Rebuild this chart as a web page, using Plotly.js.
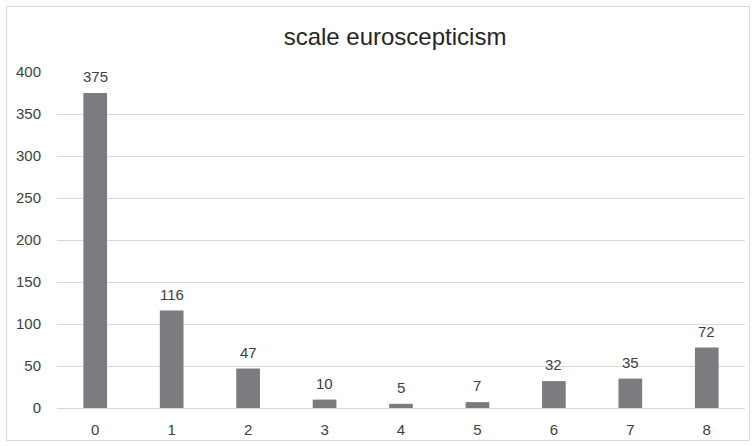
<!DOCTYPE html>
<html>
<head>
<meta charset="utf-8">
<script src="https://cdn.plot.ly/plotly-3.0.1.min.js"></script>
<style>html,body{margin:0;padding:0;background:#fff;}</style>
</head>
<body>
<div id="chart" style="width:756px;height:446px;"></div>
<script>
const categories = ["0", "1", "2", "3", "4", "5", "6", "7", "8"];
const counts = [375, 116, 47, 10, 5, 7, 32, 35, 72];
const yTicks = [0, 50, 100, 150, 200, 250, 300, 350, 400];

const W = 756, H = 446;
const m = {l: 57, r: 11, t: 72, b: 38};
const pw = W - m.l - m.r, ph = H - m.t - m.b;
const px = v => (v - m.l) / pw;
const py = v => 1 - (v - m.t) / ph;
const FONT = 'Liberation Sans, Arial, sans-serif';

const trace = {
  type: 'bar',
  x: categories,
  y: counts,
  marker: {color: '#7b7c80'},
  hoverinfo: 'x+y'
};

const labels = categories.map((c, i) => ({
  x: c, y: counts[i], xref: 'x', yref: 'y',
  text: String(counts[i]), showarrow: false,
  yanchor: 'middle', yshift: 16.5,
  font: {family: FONT, size: 15, color: '#404040'}
}));

const layout = {
  width: W, height: H,
  margin: m,
  paper_bgcolor: '#ffffff',
  plot_bgcolor: '#ffffff',
  showlegend: false,
  bargap: 0.69,
  font: {family: FONT, color: '#404040', size: 15},
  title: {
    text: 'scale euroscepticism',
    font: {size: 24, color: '#262626', family: FONT},
    x: 395 / W, xanchor: 'center',
    y: 1 - 37 / H, yanchor: 'middle'
  },
  xaxis: {
    type: 'category',
    showgrid: false,
    showline: false,
    zeroline: false,
    ticks: 'outside', ticklen: 8, tickcolor: 'rgba(0,0,0,0)',
    tickfont: {size: 15, color: '#404040'}
  },
  yaxis: {
    range: [0, 400],
    tickvals: yTicks,
    ticktext: yTicks.map(String),
    showgrid: true,
    gridcolor: '#d9d9d9',
    gridwidth: 1,
    zeroline: true,
    zerolinecolor: '#d9d9d9',
    zerolinewidth: 1,
    showline: false,
    ticks: 'outside', ticklen: 12, tickcolor: 'rgba(0,0,0,0)',
    tickfont: {size: 15, color: '#404040'}
  },
  annotations: labels,
  shapes: [{
    type: 'rect', xref: 'paper', yref: 'paper',
    x0: px(6.5), x1: px(749.5), y0: py(6.5), y1: py(440.5),
    line: {color: '#d9d9d9', width: 1},
    fillcolor: 'rgba(0,0,0,0)',
    layer: 'below'
  }]
};

Plotly.newPlot('chart', [trace], layout, {displayModeBar: false, staticPlot: true});
</script>
</body>
</html>
